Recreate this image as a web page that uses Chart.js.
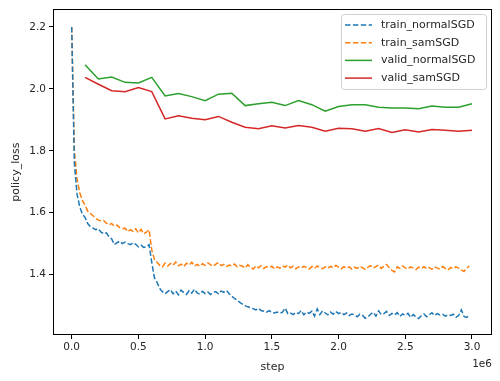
<!DOCTYPE html>
<html>
<head>
<meta charset="utf-8">
<script src="https://cdn.jsdelivr.net/npm/chart.js@4/dist/chart.umd.min.js"></script>
<style>
html,body{margin:0;padding:0;background:#fff;}
#wrap{width:500px;height:381px;position:relative;}
</style>
</head>
<body>
<div id="wrap"><canvas id="c" width="500" height="381"></canvas></div>
<script>
// ---- data ----
const trainStart = 0;          // first train step
const trainInterval = 20000;   // logging interval of train curves
const trainNormalSGD = [
2.200,1.760,1.660,1.620,1.595,1.585,1.565,1.555,1.550,1.545,
1.548,1.537,1.532,1.535,1.522,1.515,1.497,1.503,1.508,1.500,
1.505,1.500,1.497,1.503,1.498,1.490,1.495,1.488,1.490,1.497,
1.440,1.390,1.375,1.355,1.345,1.338,1.345,1.352,1.338,1.347,
1.335,1.350,1.342,1.336,1.348,1.340,1.353,1.341,1.337,1.346,
1.339,1.344,1.336,1.342,1.345,1.338,1.347,1.343,1.349,1.338,
1.330,1.323,1.318,1.310,1.305,1.300,1.296,1.293,1.290,1.286,
1.291,1.284,1.282,1.279,1.284,1.278,1.276,1.279,1.275,1.279,
1.292,1.274,1.276,1.271,1.278,1.274,1.284,1.270,1.279,1.275,
1.282,1.266,1.289,1.271,1.283,1.276,1.270,1.279,1.272,1.281,
1.274,1.278,1.271,1.276,1.268,1.273,1.270,1.264,1.272,1.268,
1.259,1.263,1.272,1.278,1.266,1.283,1.271,1.274,1.281,1.268,
1.275,1.270,1.277,1.265,1.273,1.269,1.275,1.262,1.271,1.263,
1.258,1.267,1.273,1.264,1.270,1.277,1.268,1.274,1.270,1.272,
1.266,1.270,1.268,1.272,1.262,1.268,1.286,1.265,1.262,1.268
];
const trainSamSGD = [
2.200,1.800,1.710,1.665,1.640,1.625,1.605,1.598,1.590,1.582,
1.576,1.574,1.575,1.566,1.561,1.565,1.556,1.560,1.552,1.548,
1.550,1.539,1.545,1.540,1.548,1.535,1.546,1.532,1.537,1.545,
1.480,1.450,1.440,1.430,1.425,1.437,1.428,1.436,1.430,1.441,
1.429,1.434,1.426,1.437,1.431,1.440,1.428,1.433,1.427,1.435,
1.430,1.438,1.432,1.427,1.434,1.439,1.429,1.433,1.426,1.431,
1.428,1.434,1.425,1.430,1.427,1.421,1.432,1.424,1.418,1.428,
1.422,1.429,1.420,1.426,1.423,1.427,1.418,1.425,1.421,1.428,
1.424,1.431,1.422,1.427,1.419,1.425,1.421,1.427,1.423,1.418,
1.426,1.420,1.428,1.423,1.419,1.425,1.421,1.427,1.422,1.430,
1.424,1.419,1.426,1.421,1.425,1.418,1.424,1.420,1.427,1.422,
1.417,1.424,1.429,1.421,1.426,1.431,1.420,1.427,1.433,1.422,
1.414,1.409,1.425,1.420,1.428,1.422,1.418,1.425,1.421,1.416,
1.424,1.420,1.426,1.419,1.423,1.417,1.425,1.421,1.418,1.426,
1.420,1.415,1.423,1.419,1.425,1.421,1.415,1.410,1.420,1.428
];
const validSteps = [100000,200000,300000,400000,500000,600000,700000,800000,900000,1000000,
1100000,1200000,1300000,1400000,1500000,1600000,1700000,1800000,1900000,2000000,
2100000,2200000,2300000,2400000,2500000,2600000,2700000,2800000,2900000,3000000];
const validNormalSGD = [2.078,2.032,2.038,2.021,2.019,2.037,1.977,1.985,1.975,1.962,
1.983,1.986,1.946,1.952,1.957,1.946,1.962,1.949,1.928,1.943,
1.949,1.949,1.941,1.938,1.938,1.936,1.945,1.941,1.941,1.952];
const validSamSGD = [2.037,2.015,1.994,1.991,2.004,1.991,1.903,1.913,1.905,1.900,
1.911,1.892,1.876,1.871,1.881,1.874,1.882,1.876,1.863,1.873,
1.871,1.863,1.872,1.859,1.868,1.861,1.869,1.866,1.863,1.866];
const xTicks = [0,500000,1000000,1500000,2000000,2500000,3000000];
const yTicks = [1.4,1.6,1.8,2.0,2.2];
const seriesNames = ['train_normalSGD','train_samSGD','valid_normalSGD','valid_samSGD'];

// ---- build ----
const trainPts = arr => arr.map((v,i)=>({x: trainStart + i*trainInterval, y: v}));
const validPts = arr => arr.map((v,i)=>({x: validSteps[i], y: v}));
const FONT = "'DejaVu Sans', sans-serif";
const TXT = '#262626';

const frame = {
  id:'frame',
  afterDraw(chart){
    const {ctx, chartArea:a} = chart;
    ctx.save();
    ctx.strokeStyle = '#000'; ctx.lineWidth = 1;
    ctx.strokeRect(Math.round(a.left)+0.5, Math.round(a.top)+0.5, Math.round(a.right-a.left)-1, Math.round(a.bottom-a.top)-1);
    // offset text
    ctx.fillStyle = TXT; ctx.font = "10.5px " + FONT;
    ctx.textAlign = 'right'; ctx.textBaseline = 'alphabetic';
    ctx.fillText('1e6', a.right, 367);
    // legend
    const lx = 341.5, ly = 14.5, lw = 145, lh = 75;
    ctx.beginPath();
    if (ctx.roundRect) ctx.roundRect(lx, ly, lw, lh, 3); else ctx.rect(lx, ly, lw, lh);
    ctx.fillStyle = 'rgba(255,255,255,0.8)'; ctx.fill();
    ctx.strokeStyle = '#d0d0d0'; ctx.lineWidth = 1; ctx.stroke();
    ctx.font = "11px " + FONT; ctx.textAlign = 'left'; ctx.textBaseline = 'middle';
    chart.data.datasets.forEach((ds, i) => {
      const y = 25 + i*17.7;
      ctx.beginPath();
      ctx.setLineDash(ds.borderDash || []);
      ctx.strokeStyle = ds.borderColor; ctx.lineWidth = 1.5;
      ctx.moveTo(345, y); ctx.lineTo(372, y); ctx.stroke();
      ctx.setLineDash([]);
      ctx.fillStyle = TXT;
      ctx.fillText(ds.label, 381, y);
    });
    ctx.restore();
  }
};

const dsBase = {pointRadius:0, borderWidth:1.5, tension:0, fill:false};
new Chart(document.getElementById('c'), {
  type:'line',
  data:{datasets:[
    Object.assign({label:seriesNames[0], data:trainPts(trainNormalSGD), borderColor:'#1f77b4', borderDash:[5.5,2.4]}, dsBase),
    Object.assign({label:seriesNames[1], data:trainPts(trainSamSGD), borderColor:'#ff7f0e', borderDash:[5.5,2.4]}, dsBase),
    Object.assign({label:seriesNames[2], data:validPts(validNormalSGD), borderColor:'#2ca02c'}, dsBase),
    Object.assign({label:seriesNames[3], data:validPts(validSamSGD), borderColor:'#d62728'}, dsBase)
  ]},
  options:{
    responsive:false, animation:false, devicePixelRatio:1,
    layout:{padding:{left:0, top:7, right:8, bottom:0}},
    plugins:{legend:{display:false}, tooltip:{enabled:false}},
    scales:{
      x:{type:'linear', min:-140000, max:3150000,
        afterBuildTicks: ax => { ax.ticks = xTicks.map(v=>({value:v})); },
        afterFit: ax => { ax.height = 46; },
        grid:{drawOnChartArea:false, drawTicks:true, tickLength:4, color:'#000'},
        border:{display:false},
        ticks:{color:TXT, font:{family:FONT, size:10.5}, padding:2, maxRotation:0,
          callback: v => (v/1e6).toFixed(1)},
        title:{display:true, text:'step', color:TXT, font:{family:FONT, size:11}, padding:{top:0,bottom:7}}
      },
      y:{type:'linear', min:1.205, max:2.257,
        afterBuildTicks: ax => { ax.ticks = yTicks.map(v=>({value:v})); },
        afterFit: ax => { ax.width = 53; },
        grid:{drawOnChartArea:false, drawTicks:true, tickLength:4, color:'#000'},
        border:{display:false},
        ticks:{color:TXT, font:{family:FONT, size:10.5}, padding:3,
          callback: v => v.toFixed(1)},
        title:{display:true, text:'policy_loss', color:TXT, font:{family:FONT, size:11}, padding:{top:10,bottom:0}}
      }
    }
  },
  plugins:[frame]
});
</script>
</body>
</html>
